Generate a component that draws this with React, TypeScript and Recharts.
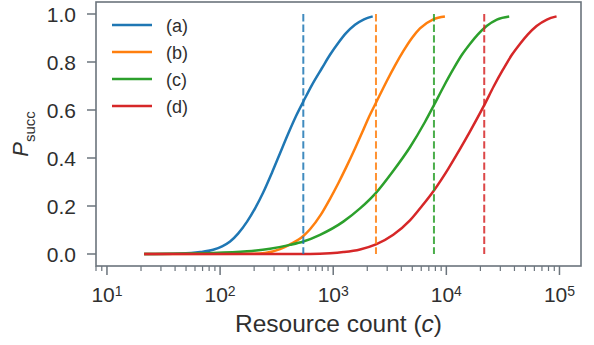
import React from 'react';
import { LineChart, Line, XAxis, YAxis } from 'recharts';

// ---- data ----
const seriesNames = ['(a)', '(b)', '(c)', '(d)'];
const seriesColors = ['#1f77b4', '#ff7f0e', '#2ca02c', '#d62728'];

const countA = [21.3, 44.3, 66.6, 86.8, 104.2, 122.6, 144.2, 173.2, 203.8, 239.8, 288, 338.8, 398.8, 469.3, 544, 649.6, 796, 936.9, 1103, 1297.6, 1558, 1871.6, 2234];
const psuccA = [0, 0.002, 0.008, 0.018, 0.032, 0.052, 0.085, 0.135, 0.19, 0.255, 0.34, 0.42, 0.5, 0.575, 0.635, 0.705, 0.775, 0.83, 0.878, 0.92, 0.955, 0.978, 0.99];

const countB = [21.3, 184.1, 249.7, 338.8, 415.3, 544, 623.7, 780.2, 936.9, 1109, 1297.6, 1558, 1796.9, 2042, 2388, 2969, 3514, 4163, 4967, 5846, 7661, 9718];
const psuccB = [0, 0.001, 0.004, 0.02, 0.04, 0.075, 0.103, 0.165, 0.23, 0.295, 0.36, 0.44, 0.505, 0.565, 0.63, 0.72, 0.785, 0.845, 0.9, 0.94, 0.978, 0.99];

const countC = [21.3, 86.8, 173.2, 276.5, 415.3, 544, 764.4, 1228, 1726, 2388, 3375, 4768, 6471, 7772, 9524, 11510, 13735, 16160, 19023, 22700, 27990, 35950];
const psuccC = [0, 0.004, 0.011, 0.022, 0.038, 0.052, 0.08, 0.135, 0.19, 0.255, 0.345, 0.445, 0.55, 0.62, 0.7, 0.77, 0.83, 0.875, 0.915, 0.95, 0.977, 0.99];

const countD = [21.3, 623.7, 936.9, 1228, 1726, 2388, 3396, 4768, 6087, 7772, 10390, 12920, 16160, 21620, 26330, 31820, 37970, 44700, 52590, 62780, 77400, 94270];
const psuccD = [0, 0, 0.003, 0.008, 0.019, 0.04, 0.08, 0.14, 0.2, 0.265, 0.355, 0.43, 0.51, 0.62, 0.7, 0.77, 0.83, 0.875, 0.915, 0.95, 0.977, 0.99];

const thresholds = [544, 2388, 7772, 21620];

const xMajorTicks = [10, 100, 1000, 10000, 100000];
const xMinorTicks = [
  8, 9,
  20, 30, 40, 50, 60, 70, 80, 90,
  200, 300, 400, 500, 600, 700, 800, 900,
  2000, 3000, 4000, 5000, 6000, 7000, 8000, 9000,
  20000, 30000, 40000, 50000, 60000, 70000, 80000, 90000,
];
const yTicks = [0, 0.2, 0.4, 0.6, 0.8, 1.0];

const xLabel = 'Resource count (';
const xLabelVar = 'c';
const yLabelMain = 'P';
const yLabelSub = 'succ';

// ---- build tables ----
const toRows = (cs: number[], ps: number[]) => cs.map((c, i) => ({ c, p: ps[i] }));
const seriesData = [
  toRows(countA, psuccA),
  toRows(countB, psuccB),
  toRows(countC, psuccC),
  toRows(countD, psuccD),
];
const thresholdData = thresholds.map((c) => [
  { c, p: 1 },
  { c, p: 0 },
]);

// ---- layout / style ----
const W = 594;
const H = 345;
const PL = 96;
const PT = 2;
const PR = 581;
const PB = 266;
const AX = '#6b747c';
const TXT = '#2f2f2f';
const FONT = '"Liberation Sans", Arial, Helvetica, sans-serif';

const XTick = (props: any) => {
  const { x, payload } = props;
  const v = payload.value as number;
  const exp = Math.round(Math.log10(v));
  const major = Math.abs(Math.pow(10, exp) - v) < 1e-6 * v;
  return (
    <g>
      <line x1={x} x2={x} y1={PB} y2={PB + (major ? 9 : 5)} stroke={AX} strokeWidth={major ? 1.5 : 1.2} />
      {major && (
        <text x={x} y={301.5} textAnchor="middle" fontSize={21} fill={TXT} fontFamily={FONT}>
          <tspan>10</tspan>
          <tspan fontSize={14} dy={-6}>{exp}</tspan>
        </text>
      )}
    </g>
  );
};

const YTick = (props: any) => {
  const { y, payload } = props;
  return (
    <g>
      <line x1={PL - 9} x2={PL} y1={y} y2={y} stroke={AX} strokeWidth={1.5} />
      <text x={76} y={y} textAnchor="end" dominantBaseline="central" fontSize={21} fill={TXT} fontFamily={FONT}>
        {(payload.value as number).toFixed(1)}
      </text>
    </g>
  );
};

export default function App() {
  return (
    <div style={{ position: 'absolute', left: 0, top: 0, width: W, height: H, background: '#fff' }}>
      <LineChart width={W} height={H} margin={{ top: PT, right: W - PR, left: 0, bottom: 0 }}>
        <XAxis
          dataKey="c"
          type="number"
          scale="log"
          domain={[8, 155000]}
          allowDataOverflow
          ticks={[...xMinorTicks, ...xMajorTicks]}
          interval={0}
          height={H - PB}
          axisLine={false}
          tickLine={false}
          tick={(p: any) => <XTick {...p} />}
        />
        <YAxis
          type="number"
          domain={[-0.05, 1.05]}
          allowDataOverflow
          ticks={yTicks}
          interval={0}
          width={PL}
          axisLine={false}
          tickLine={false}
          tick={(p: any) => <YTick {...p} />}
        />
        {seriesData.map((d, i) => (
          <Line
            key={'s' + i}
            data={d}
            dataKey="p"
            type="monotone"
            stroke={seriesColors[i]}
            strokeWidth={2.5}
            dot={false}
            activeDot={false}
            isAnimationActive={false}
          />
        ))}
        {thresholdData.map((d, i) => (
          <Line
            key={'t' + i}
            data={d}
            dataKey="p"
            type="linear"
            stroke={seriesColors[i]}
            strokeOpacity={0.85}
            strokeWidth={2}
            strokeDasharray="7.4 3.2"
            dot={false}
            activeDot={false}
            isAnimationActive={false}
          />
        ))}
      </LineChart>
      <svg
        width={W}
        height={H}
        style={{ position: 'absolute', left: 0, top: 0, pointerEvents: 'none' }}
        fontFamily={FONT}
      >
        <rect x={PL} y={PT} width={PR - PL} height={PB - PT} fill="none" stroke={AX} strokeWidth={1.6} />
        {seriesNames.map((n, i) => (
          <g key={n}>
            <line x1={112} x2={152} y1={25 + 27 * i} y2={25 + 27 * i} stroke={seriesColors[i]} strokeWidth={2.5} />
            <text x={166} y={26 + 27 * i} dominantBaseline="central" fontSize={18} fill={TXT}>
              {n}
            </text>
          </g>
        ))}
        <text x={(PL + PR) / 2} y={331.5} textAnchor="middle" fontSize={24.5} fill={TXT}>
          {xLabel}
          <tspan fontStyle="italic">{xLabelVar}</tspan>)
        </text>
        <text transform={`translate(28, ${(PT + PB) / 2}) rotate(-90)`} textAnchor="middle" fill={TXT}>
          <tspan fontStyle="italic" fontSize={22}>{yLabelMain}</tspan>
          <tspan fontSize={15} dy={7}>{yLabelSub}</tspan>
        </text>
      </svg>
    </div>
  );
}
